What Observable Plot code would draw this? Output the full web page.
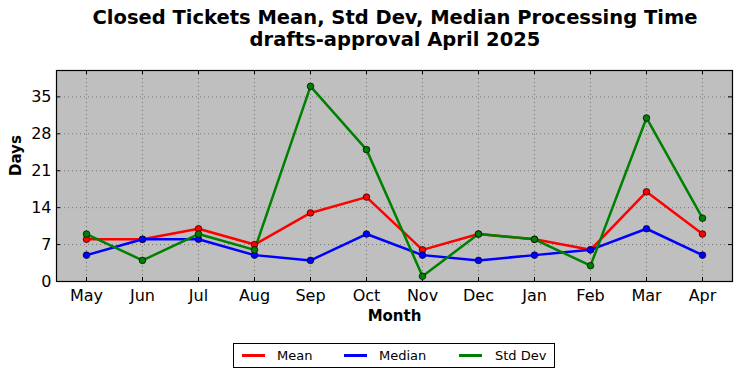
<!DOCTYPE html>
<html>
<head>
<meta charset="utf-8">
<script src="https://cdn.jsdelivr.net/npm/d3@7"></script>
<script src="https://cdn.jsdelivr.net/npm/@observablehq/plot@0.6"></script>
<style>
  body { margin: 0; background: #fff; font-family: "DejaVu Sans", sans-serif; }
  #wrap { position: relative; width: 742px; height: 378px; overflow: hidden; }
  #wrap svg { position: absolute; left: 0; top: 0; }
  #title { position: absolute; left: 0px; width: 790px; top: 7px; text-align: center; font-weight: bold; font-size: 19.5px; line-height: 22px; color: #000; }
  #legend { position: absolute; left: 233px; top: 343px; width: 320px; height: 23px; border: 1px solid #000; background: #fff; font-size: 13px; }
  .item { position: absolute; top: 0; height: 23px; line-height: 23px; }
  .sw { position: absolute; top: 10px; width: 23px; height: 3px; }
</style>
</head>
<body>
<div id="wrap">
  <div id="title">Closed Tickets Mean, Std Dev, Median Processing Time<br>drafts-approval April 2025</div>
  <div id="legend"></div>
</div>
<script>
const months = ["May","Jun","Jul","Aug","Sep","Oct","Nov","Dec","Jan","Feb","Mar","Apr"];
const meanValues   = [8, 8, 10, 7, 13, 16, 6, 9, 8, 6, 17, 9];
const medianValues = [5, 8, 8, 5, 4, 9, 5, 4, 5, 6, 10, 5];
const stdValues    = [9, 4, 9, 6, 37, 25, 1, 9, 8, 3, 31, 12];
const yTicks = [0, 7, 14, 21, 28, 35];
const seriesNames = ["Mean", "Median", "Std Dev"];
const seriesColors = ["#ff0000", "#0000ff", "#008000"];

const seriesValues = [meanValues, medianValues, stdValues];
const rows = seriesNames.flatMap((s, si) => months.map((m, i) => ({series: s, month: m, value: seriesValues[si][i]})));

const W = 742, H = 378, mt = 70, mb = 97, ml = 56, mr = 10;
const fw = W - ml - mr, fh = H - mt - mb;

const chart = Plot.plot({
  width: W, height: H,
  marginTop: mt, marginBottom: mb, marginLeft: ml, marginRight: mr,
  style: {fontFamily: "DejaVu Sans, sans-serif", background: "transparent", color: "#000"},
  x: {type: "point", domain: months, padding: 0.5, label: null},
  y: {domain: [0, 40], label: null},
  color: {domain: seriesNames, range: seriesColors},
  marks: [
    Plot.frame({fill: "#bfbfbf", stroke: null}),
    Plot.gridX(months, {stroke: "#555", strokeOpacity: 0.7, strokeDasharray: "1,3"}),
    Plot.gridY(yTicks, {stroke: "#555", strokeOpacity: 0.7, strokeDasharray: "1,3"}),
    // inward ticks
    Plot.tickX(months, {x: d => d, insetTop: fh - 4, stroke: "#000"}),
    Plot.tickX(months, {x: d => d, insetBottom: fh - 4, stroke: "#000"}),
    Plot.tickY(yTicks, {y: d => d, insetRight: fw - 4, stroke: "#000"}),
    Plot.tickY(yTicks, {y: d => d, insetLeft: fw - 4, stroke: "#000"}),
    Plot.axisX({tickSize: 0, tickPadding: 8, fontSize: 16, label: null}),
    Plot.axisY(yTicks, {tickSize: 0, tickPadding: 5, fontSize: 16, label: null}),
    Plot.line(rows, {x: "month", y: "value", z: "series", stroke: "series", strokeWidth: 2.5}),
    Plot.dot(rows, {x: "month", y: "value", fill: "series", stroke: "#000", strokeWidth: 0.7, r: 3.3}),
    Plot.frame({stroke: "#000", strokeWidth: 1.2}),
    Plot.text(["Month"], {frameAnchor: "bottom", dy: 39, fontSize: 15, fontWeight: "bold"}),
    Plot.text(["Days"], {frameAnchor: "left", dx: -40, rotate: -90, fontSize: 15, fontWeight: "bold"})
  ]
});
document.getElementById("wrap").prepend(chart);

const legend = document.getElementById("legend");
const xs = [[8, 43], [110, 145], [225, 261]];
seriesNames.forEach((s, i) => {
  const sw = document.createElement("div");
  sw.className = "sw"; sw.style.left = xs[i][0] + "px"; sw.style.background = seriesColors[i];
  legend.appendChild(sw);
  const t = document.createElement("div");
  t.className = "item"; t.style.left = xs[i][1] + "px"; t.textContent = s;
  legend.appendChild(t);
});
</script>
</body>
</html>
